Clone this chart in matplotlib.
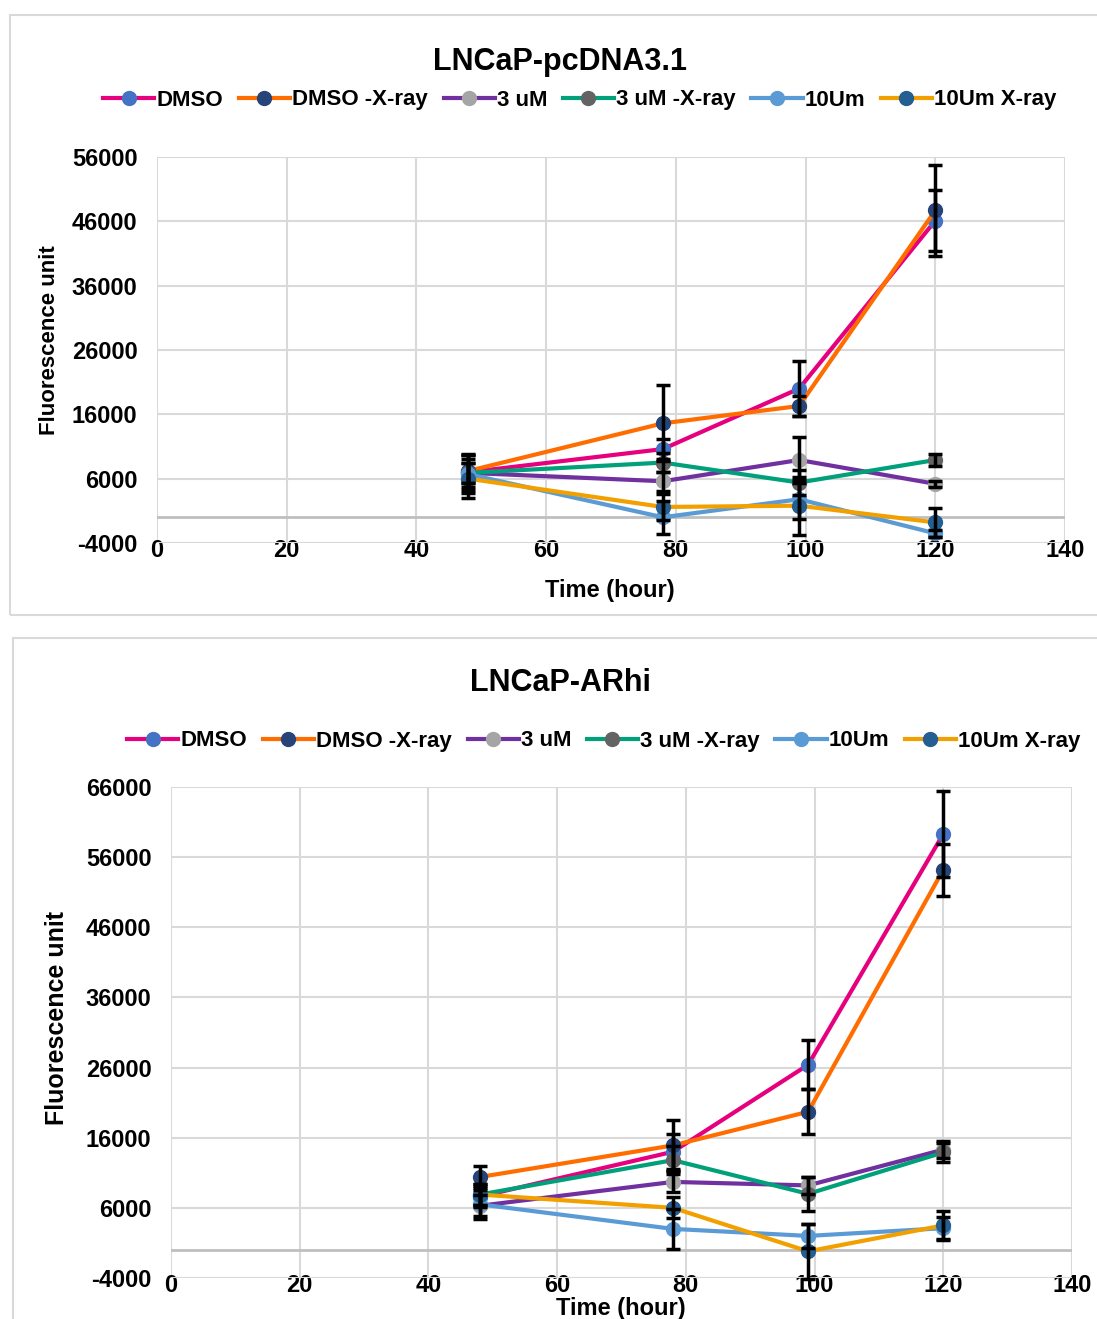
import matplotlib.pyplot as plt
from matplotlib.patches import Rectangle
from matplotlib.lines import Line2D

plt.rcParams['font.family'] = ['Liberation Sans', 'DejaVu Sans']
plt.rcParams['font.weight'] = 'bold'
plt.rcParams['axes.unicode_minus'] = False

hours = [48, 78, 99, 120]
labels = ["DMSO", "DMSO -X-ray", "3 uM", "3 uM -X-ray", "10Um", "10Um X-ray"]
line_colors = ["#E6007E", "#FF6D00", "#7030A0", "#00A07A", "#5B9BD5", "#F2A000"]
marker_colors = ["#4472C4", "#264478", "#A5A5A5", "#636363", "#5B9BD5", "#255E91"]

# LNCaP-pcDNA3.1
pc_dmso = [7000, 10600, 20000, 46100]
pc_dmso_xray = [7200, 14600, 17300, 47700]
pc_3um = [6900, 5600, 8900, 5200]
pc_3um_xray = [6900, 8500, 5400, 8900]
pc_10um = [6700, 0, 2800, -2500]
pc_10um_xray = [6000, 1600, 1800, -800]
pc_err = [
    [2800, 1500, 4300, 4700],
    [2500, 5900, 1500, 7100],
    [1500, 1500, 3600, 500],
    [1500, 1500, 2000, 1000],
    [3000, 2600, 3000, 500],
    [3000, 2000, 4500, 2300],
]

# LNCaP-ARhi
ar_dmso = [7600, 14000, 26400, 59300]
ar_dmso_xray = [10400, 14900, 19700, 54200]
ar_3um = [6300, 9700, 9200, 14300]
ar_3um_xray = [7900, 12800, 8000, 13900]
ar_10um = [6500, 3000, 2000, 3100]
ar_10um_xray = [7900, 6000, -200, 3500]
ar_err = [
    [1500, 2500, 3500, 6100],
    [1600, 3600, 3200, 3700],
    [1500, 1500, 1200, 1200],
    [1500, 2000, 2400, 1300],
    [2100, 2800, 1700, 1600],
    [1500, 1500, 3900, 2100],
]

W, H = 1097, 1319
fig = plt.figure(figsize=(W / 100, H / 100), dpi=100)


def fx(px):
    return px / W


def fy(py):
    return 1 - py / H


# chart area borders
fig.patches.append(Rectangle((fx(10), fy(615)), 1.0, (615 - 15) / H, transform=fig.transFigure,
                             fill=False, edgecolor="#D9D9D9", lw=1.5))
fig.patches.append(Rectangle((fx(13), -0.01), 1.0, fy(638) + 0.01, transform=fig.transFigure,
                             fill=False, edgecolor="#D9D9D9", lw=1.5))


def draw(rect, series, errs, ymax, yticks):
    ax = fig.add_axes(rect)
    ax.set_xlim(0, 140)
    ax.set_ylim(-4000, ymax)
    ax.set_xticks(range(0, 141, 20))
    ax.set_yticks(yticks)
    ax.grid(True, color="#D9D9D9", lw=1.5)
    ax.set_axisbelow(True)
    for s in ax.spines.values():
        s.set_visible(False)
    ax.axhline(0, color="#BFBFBF", lw=2, zorder=1)
    ax.tick_params(length=0, labelsize=17)
    ax.tick_params(axis='y', pad=14)
    ax.tick_params(axis='x', pad=-3)
    for lab in ax.get_xticklabels() + ax.get_yticklabels():
        lab.set_fontweight('bold')
    for vals, err, lc, mc in zip(series, errs, line_colors, marker_colors):
        ax.plot(hours, vals, color=lc, lw=3, marker='o', ms=10, mfc=mc, mec=mc, zorder=3)
        ax.errorbar(hours, vals, yerr=err, fmt='none', ecolor='black', elinewidth=2.5,
                    capsize=5, capthick=2.5, zorder=4, clip_on=False)
    return ax


draw([fx(157), fy(543), (1065 - 157) / W, (543 - 157) / H],
     [pc_dmso, pc_dmso_xray, pc_3um, pc_3um_xray, pc_10um, pc_10um_xray], pc_err,
     56000, range(-4000, 56001, 10000))
draw([fx(171), fy(1278), (1072 - 171) / W, (1278 - 787) / H],
     [ar_dmso, ar_dmso_xray, ar_3um, ar_3um_xray, ar_10um, ar_10um_xray], ar_err,
     66000, range(-4000, 66001, 10000))

handles = [Line2D([], [], color=lc, lw=3, marker='o', ms=10, mfc=mc, mec=mc)
           for lc, mc in zip(line_colors, marker_colors)]

fig.text(fx(560), fy(62), "LNCaP-pcDNA3.1", ha='center', va='center', fontsize=22, fontweight='bold')
fig.text(fx(560), fy(683), "LNCaP-ARhi", ha='center', va='center', fontsize=22, fontweight='bold')

for cx, cy in [(580, 100), (604, 741)]:
    fig.legend(handles, labels, loc='center', bbox_to_anchor=(fx(cx), fy(cy)), ncol=6,
               frameon=False, handlelength=2.3, handletextpad=0.1,
               columnspacing=0.7, prop={'weight': 'bold', 'size': 16})

fig.text(fx(50), fy(340), "Fluorescence unit", rotation=90, ha='center', va='center',
         fontsize=16, fontweight='bold')
fig.text(fx(57), fy(1018), "Fluorescence unit", rotation=90, ha='center', va='center',
         fontsize=18, fontweight='bold')
fig.text(fx(610), fy(590), "Time (hour)", ha='center', va='center', fontsize=17, fontweight='bold')
fig.text(fx(621), fy(1308), "Time (hour)", ha='center', va='center', fontsize=17, fontweight='bold')

plt.savefig("out.png", dpi=100)
